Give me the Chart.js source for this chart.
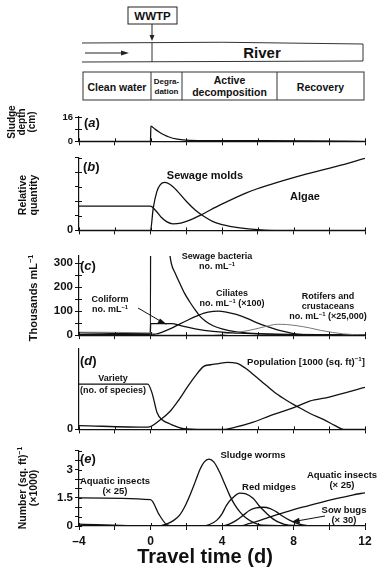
<!DOCTYPE html>
<html>
<head>
<meta charset="utf-8">
<script src="https://cdn.jsdelivr.net/npm/chart.js@4"></script>
<style>
  body { margin: 0; width: 378px; height: 570px; position: relative; overflow: hidden; background: #fff;
         font-family: "Liberation Sans", Arial, sans-serif; font-weight: bold; color: #111; }
  canvas { position: absolute; left: 0; }
  .t { position: absolute; white-space: nowrap; transform: translate(-50%, -50%); text-align: center; line-height: 1.1; }
  .rot { position: absolute; white-space: nowrap; text-align: center; transform: translate(-50%, -50%) rotate(-90deg); }
  .lab { position: absolute; font-size: 13px; transform: translate(0, -50%); }
  sup { font-size: .65em; line-height: 0; vertical-align: .55em; }
  svg { position: absolute; left: 0; top: 0; }
</style>
</head>
<body>

<svg width="378" height="570" font-family="Liberation Sans, Arial, sans-serif" font-weight="bold" fill="#111">
  <!-- plant and river -->
  <rect x="128" y="7" width="49" height="17" fill="#fff" stroke="#222" stroke-width="1"/>
  <text x="152.5" y="20" font-size="11.5" text-anchor="middle">WWTP</text>
  <line x1="152" y1="24" x2="152" y2="37" stroke="#222" stroke-width="1"/>
  <polygon points="149.5,35 154.5,35 152,41" fill="#222"/>
  <path d="M82,43 Q222,41 363,44" fill="none" stroke="#333" stroke-width="1"/>
  <line x1="82" y1="62" x2="363" y2="61" stroke="#333" stroke-width="1"/>
  <line x1="363" y1="44" x2="363" y2="61" stroke="#333" stroke-width="1"/>
  <line x1="152" y1="42" x2="152" y2="62" stroke="#333" stroke-width="1"/>
  <line x1="85" y1="53" x2="123" y2="53" stroke="#222" stroke-width="1"/>
  <polygon points="121,50.5 129,53 121,55.5" fill="#222"/>
  <text x="262" y="58" font-size="15" text-anchor="middle">River</text>
  <!-- stages -->
  <rect x="83" y="72" width="281" height="28" fill="none" stroke="#333" stroke-width="1"/>
  <line x1="151" y1="72" x2="151" y2="100" stroke="#333"/>
  <line x1="182" y1="72" x2="182" y2="100" stroke="#333"/>
  <line x1="277" y1="72" x2="277" y2="100" stroke="#333"/>
  <text x="117" y="91" font-size="10.5" text-anchor="middle">Clean water</text>
  <text x="166.5" y="84" font-size="8" text-anchor="middle">Degra-</text>
  <text x="166.5" y="94" font-size="8" text-anchor="middle">dation</text>
  <text x="229.5" y="83.5" font-size="10.5" text-anchor="middle">Active</text>
  <text x="229.5" y="95.5" font-size="10.5" text-anchor="middle">decomposition</text>
  <text x="320.5" y="91" font-size="10.5" text-anchor="middle">Recovery</text>
</svg>

<canvas id="pa" width="378" height="40"></canvas>
<canvas id="pb" width="378" height="90"></canvas>
<canvas id="pc" width="378" height="97"></canvas>
<canvas id="pd" width="378" height="98"></canvas>
<canvas id="pe" width="378" height="114"></canvas>

<svg width="378" height="570">
  <line x1="138" y1="308" x2="162" y2="322" stroke="#111" stroke-width="1"/>
  <polygon points="160,318.5 167,324.5 157.5,323" fill="#111"/>
  <line x1="325" y1="516" x2="298" y2="520.8" stroke="#111" stroke-width="1"/>
  <polygon points="299,517.8 291.5,522 300,523.3" fill="#111"/>
</svg>

<!-- axis titles -->
<div class="rot" style="left:22px;top:122px;font-size:10px;line-height:10px">Sludge<br>depth<br>(cm)</div>
<div class="rot" style="left:27px;top:195px;font-size:10.5px;line-height:10.5px">Relative<br>quantity</div>
<div class="rot" style="left:33px;top:298px;font-size:11px">Thousands mL<sup>−1</sup></div>
<div class="rot" style="left:27px;top:488px;font-size:10.5px;line-height:10.5px">Number (sq. ft)<sup>−1</sup><br>(×1000)</div>
<div class="t" style="left:205px;top:556px;font-size:20px">Travel time (d)</div>

<!-- panel letters -->
<div class="lab" style="left:84px;top:122px">(<i>a</i>)</div>
<div class="lab" style="left:83px;top:166px">(<i>b</i>)</div>
<div class="lab" style="left:80px;top:265px">(<i>c</i>)</div>
<div class="lab" style="left:80px;top:360px">(<i>d</i>)</div>
<div class="lab" style="left:80px;top:458px">(<i>e</i>)</div>

<!-- series labels -->
<div class="t" style="left:205px;top:175px;font-size:11px">Sewage molds</div>
<div class="t" style="left:305px;top:196px;font-size:11px">Algae</div>
<div class="t" style="left:217px;top:262px;font-size:9px">Sewage bacteria<br>no. mL<sup>−1</sup></div>
<div class="t" style="left:110px;top:305px;font-size:9px">Coliform<br>no. mL<sup>−1</sup></div>
<div class="t" style="left:232px;top:299px;font-size:9px">Ciliates<br>no. mL<sup>−1</sup> (×100)</div>
<div class="t" style="left:328px;top:307px;font-size:9px">Rotifers and<br>crustaceans<br>no. mL<sup>−1</sup> (×25,000)</div>
<div class="t" style="left:306px;top:362px;font-size:9.5px">Population [1000 (sq. ft)<sup>−1</sup>]</div>
<div class="t" style="left:113px;top:384px;font-size:9px;line-height:12px">Variety<br>(no. of species)</div>
<div class="t" style="left:253px;top:455px;font-size:9.5px">Sludge worms</div>
<div class="t" style="left:269px;top:487px;font-size:9.5px">Red midges</div>
<div class="t" style="left:342px;top:480px;font-size:9.5px">Aquatic insects<br>(× 25)</div>
<div class="t" style="left:115px;top:485.5px;font-size:9.5px">Aquatic insects<br>(× 25)</div>
<div class="t" style="left:344px;top:515px;font-size:9.5px">Sow bugs<br>(× 30)</div>

<script>
// (a) sludge depth, cm
const sludgeDays  = [-4, 0, 0.02, 0.25, 0.5, 0.75, 1, 1.5, 2, 3, 6, 9, 12];
const sludgeDepth = [0, 0, 10, 8, 6, 4.3, 3, 1.4, 0.8, 0.5, 0.4, 0.3, 0];

// (b) relative quantity
const moldDays  = [-4, 0, 0.15, 0.35, 0.55, 0.8, 1.1, 1.5, 2, 2.5, 3, 3.5, 4, 5, 6, 8, 12];
const moldQty   = [0, 0, 0.3, 0.53, 0.63, 0.66, 0.63, 0.54, 0.4, 0.28, 0.19, 0.12, 0.08, 0.035, 0.012, 0, 0];
const algaeDays = [-4, 0, 0.3, 0.6, 0.9, 1.25, 1.7, 2.2, 2.8, 3.9, 5.4, 6.7, 8.5, 10.4, 12];
const algaeQty  = [0.334, 0.334, 0.27, 0.18, 0.12, 0.09, 0.1, 0.14, 0.21, 0.35, 0.52, 0.63, 0.76, 0.88, 0.99];

// (c) thousands per mL
const bactDays  = [-4, 0, 0.02, 0.5, 1.0, 1.16, 1.4, 1.63, 1.9, 2.2, 2.5, 2.76, 3.1, 3.5, 4, 4.8, 5.5, 6.7, 8, 10, 12];
const bactCount = [3, 3, 1500, 700, 380, 300, 255, 217, 175, 138, 105, 79, 57, 39, 26, 13, 8, 4, 2, 1, 0.5];
const coliDays  = [-4, -0.01, 0.01, 1.2, 1.6, 2, 2.5, 3, 4, 5, 6, 8, 10, 12];
const coliCount = [10, 6, 48, 48, 42, 34, 26, 20, 12, 8, 5, 3, 2, 1];
const ciliDays  = [-4, 0, 0.5, 0.9, 1.3, 1.63, 2.1, 2.57, 3.0, 3.5, 3.8, 4.3, 4.8, 5.4, 5.9, 6.5, 7.1, 7.7, 8.2, 9, 12];
const ciliCount = [2, 0, 8, 20, 33, 46, 63, 79, 92, 99, 100, 95, 86, 70, 53, 36, 22, 11, 4, 1, 0];
const rotiDays  = [-4, 0, 0.5, 3.5, 4.2, 4.8, 5.4, 5.9, 6.5, 7.1, 7.6, 8.2, 8.9, 9.5, 10.2, 10.8, 11.4, 12];
const rotiCount = [12, 9, 0, 0, 5, 11, 18, 26, 37, 45, 44, 39, 30, 20, 11, 5, 2, 1];

// (d) variety and population
const varietyDays = [-4, -0.15, 0.1, 0.37, 0.65, 1.1, 1.85, 3, 4, 4.8, 5.75, 6.7, 7.5, 8.2, 8.9, 10, 12];
const varietyVals = [56, 56, 44, 20.5, 12, 6.7, 1, 0, 0, 3, 9, 17, 23, 28.5, 35, 40, 52];
const popDays = [-4, -0.15, 0.5, 1.1, 1.6, 2.05, 2.5, 2.98, 3.35, 3.8, 4.3, 4.8, 5.3, 5.75, 6.4, 7.05, 7.6, 8.2, 8.9, 9.7, 10.3, 10.8, 12];
const popVals = [4.7, 2.7, 11, 22.5, 37, 52, 66, 78, 80, 81.5, 83, 82, 76, 68, 56, 44, 36, 28.5, 20, 12, 5, 0, 0];

// (e) number per sq. ft (x1000)
const insectDays = [-4, 0, 0.5, 0.9, 1.3, 5, 5.5, 6.5, 7.5, 8.5, 9.5, 10.5, 11.3, 12];
const insectVals = [1.5, 1.4, 0.58, 0.08, 0, 0, 0.12, 0.42, 0.72, 1.0, 1.25, 1.48, 1.65, 1.77];
const wormDays = [-4, 0.3, 0.88, 1.3, 1.63, 1.9, 2.2, 2.5, 2.76, 3.0, 3.27, 3.55, 3.87, 4.15, 4.43, 4.7, 5.0, 5.35, 5.75, 6.2, 12];
const wormVals = [0.1, 0, 0.1, 0.3, 0.58, 1.0, 1.63, 2.35, 3.0, 3.4, 3.56, 3.4, 2.86, 2.25, 1.63, 1.15, 0.75, 0.42, 0.19, 0.05, 0];
const midgeDays = [-4, 2.9, 3.3, 3.7, 4.0, 4.25, 4.6, 5.0, 5.3, 5.75, 6.1, 6.5, 6.85, 7.2, 7.7, 12];
const midgeVals = [0, 0, 0.08, 0.3, 0.65, 1.1, 1.5, 1.75, 1.72, 1.46, 1.05, 0.67, 0.38, 0.19, 0.05, 0];
const sowDays = [-4, 4.05, 4.4, 4.8, 5.2, 5.55, 5.9, 6.3, 6.7, 7.05, 7.4, 7.8, 8.2, 8.5, 9, 12];
const sowVals = [0, 0, 0.1, 0.3, 0.58, 0.84, 0.97, 1.0, 0.93, 0.75, 0.52, 0.3, 0.14, 0.06, 0, 0];

// tick values per panel, and which of them carry a label
const dayTicks = [-4, -2, 0, 2, 4, 6, 8, 10, 12];
const dayLabels = [-4, 0, 4, 8, 12];
const ticksA = [0, 8, 16],               labelsA = [0, 16];
const ticksB = [0, 0.2, 0.4, 0.6, 0.8, 1], labelsB = [0];
const ticksC = [0, 50, 100, 150, 200, 250, 300], labelsC = [0, 100, 200, 300];
const ticksD = [0],                       labelsD = [0];
const ticksE = [0, 0.5, 1, 1.5, 2, 2.5, 3, 3.5, 4], labelsE = [0, 1.5, 3];

const ink = '#111';
const AXIS_W = 79, PAD_TOP = 8;

function series(days, vals, extra) {
  return Object.assign({
    data: days.map((d, i) => ({ x: d, y: vals[i] })),
    borderColor: ink,
    borderWidth: 1.3,
    pointRadius: 0,
    cubicInterpolationMode: 'monotone',
    fill: false
  }, extra);
}

// small tick marks on the inside of both axes, so ticks cross the axis lines
const innerTicks = {
  id: 'innerTicks',
  afterDraw(chart) {
    const { ctx, chartArea: a, scales: { x, y } } = chart;
    ctx.save();
    ctx.strokeStyle = ink;
    ctx.lineWidth = 1;
    ctx.beginPath();
    y.ticks.forEach(t => {
      const p = Math.round(y.getPixelForValue(t.value)) + 0.5;
      ctx.moveTo(a.left, p); ctx.lineTo(a.left + 3, p);
    });
    x.ticks.forEach(t => {
      const p = Math.round(x.getPixelForValue(t.value)) + 0.5;
      ctx.moveTo(p, a.bottom); ctx.lineTo(p, a.bottom - 3);
    });
    ctx.stroke();
    ctx.restore();
  }
};

const has = (list, v) => list.some(l => Math.abs(l - v) < 1e-6);

function panel(id, top, bottom, yMax, yTicks, yLabels, yFont, datasets, showX) {
  const xH = showX ? 30 : 6;
  const cv = document.getElementById(id);
  cv.style.top = (top - PAD_TOP) + 'px';
  cv.height = bottom - top + PAD_TOP + xH;
  new Chart(cv.getContext('2d'), {
    type: 'line',
    data: { datasets },
    plugins: [innerTicks],
    options: {
      responsive: false,
      animation: false,
      layout: { padding: { top: PAD_TOP, left: 0, right: 13, bottom: 0 } },
      plugins: { legend: { display: false }, tooltip: { enabled: false } },
      scales: {
        x: {
          type: 'linear', min: -4, max: 12,
          border: { color: ink, width: 1.2 },
          grid: { drawOnChartArea: false, tickLength: 4, color: ink },
          afterBuildTicks: s => { s.ticks = dayTicks.map(v => ({ value: v })); },
          ticks: {
            autoSkip: false, maxRotation: 0, padding: 4,
            color: ink, font: { family: 'Liberation Sans', weight: 'bold', size: 12 },
            callback: v => (showX && has(dayLabels, v)) ? (v < 0 ? '–' + Math.abs(v) : String(v)) : ''
          },
          afterFit: s => { s.height = xH; }
        },
        y: {
          min: 0, max: yMax,
          border: { color: ink, width: 1.2 },
          grid: { drawOnChartArea: false, tickLength: 4, color: ink },
          afterBuildTicks: s => { s.ticks = yTicks.map(v => ({ value: v })); },
          ticks: {
            autoSkip: false, padding: 2,
            color: ink, font: { family: 'Liberation Sans', weight: 'bold', size: yFont },
            callback: v => has(yLabels, v) ? String(v) : ''
          },
          afterFit: s => { s.width = AXIS_W; }
        }
      }
    }
  });
}

panel('pa', 117, 143, 16, ticksA, labelsA, 9.5, [
  series(sludgeDays, sludgeDepth)
], false);

panel('pb', 157, 233, 1, ticksB, labelsB, 11, [
  series(moldDays, moldQty),
  series(algaeDays, algaeQty)
], false);

panel('pc', 255, 338, 330, ticksC, labelsC, 11.5, [
  series(rotiDays, rotiCount, { borderColor: '#777', borderWidth: 1 }),
  series(coliDays, coliCount),
  series(bactDays, bactCount),
  series(ciliDays, ciliCount)
], false);

panel('pd', 348, 432, 100, ticksD, labelsD, 11, [
  series(varietyDays, varietyVals),
  series(popDays, popVals)
], false);

panel('pe', 450, 526, 4, ticksE, labelsE, 11.5, [
  series(insectDays, insectVals),
  series(wormDays, wormVals),
  series(midgeDays, midgeVals),
  series(sowDays, sowVals)
], true);
</script>
</body>
</html>
